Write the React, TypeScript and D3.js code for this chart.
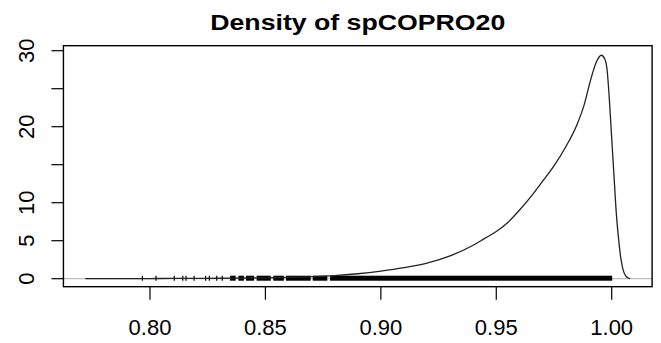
import * as d3 from 'd3';

// density estimate
const densX = [0.772, 0.78, 0.79, 0.80, 0.81, 0.82, 0.83, 0.84, 0.85, 0.86, 0.87, 0.88, 0.89, 0.90, 0.91, 0.92, 0.93, 0.94, 0.945, 0.95, 0.955, 0.96, 0.965, 0.97, 0.975, 0.98, 0.985, 0.988, 0.991, 0.9935, 0.9955, 0.997, 0.998, 0.999, 1.0, 1.001, 1.002, 1.003, 1.004, 1.005, 1.006, 1.007, 1.008];
const densY = [0, 0, 0.01, 0.02, 0.03, 0.05, 0.06, 0.09, 0.12, 0.18, 0.28, 0.4, 0.65, 1.0, 1.45, 2.05, 3.0, 4.4, 5.3, 6.2, 7.4, 9.0, 10.8, 12.8, 14.85, 17.3, 20.3, 22.8, 26.3, 28.6, 29.4, 28.9, 27.5, 23.5, 18.5, 13.5, 8.6, 5.2, 2.6, 1.1, 0.4, 0.12, 0.02];

// rug: isolated observations, then ranges where ticks merge into a solid bar
const rugSingles = [0.7967, 0.8026, 0.8105, 0.8142, 0.8156, 0.8191, 0.8241, 0.8257, 0.8289, 0.8313];
const rugBands: [number, number][] = [
  [0.8347, 0.8371], [0.8383, 0.8407], [0.8416, 0.8451], [0.8462, 0.8523],
  [0.8534, 0.858], [0.8589, 0.8696], [0.8705, 0.8768], [0.878, 1.0002],
];

const xTicks = [0.8, 0.85, 0.9, 0.95, 1.0];
const yTicks = [0, 5, 10, 15, 20, 25, 30];
const yLabels = [0, 5, 10, 20, 30];

const W = 661;
const H = 343;

export default function App() {
  const x = d3.scaleLinear().domain([0.8, 1.0]).range([150, 611.7]);
  const y = d3.scaleLinear().domain([0, 30]).range([278.7, 50.7]);

  const left = x(0.7625);
  const right = x(1.0175);
  const top = y(30.66);
  const bottom = y(-1.05);

  const pts = densX.map((d, i) => [d, densY[i]] as [number, number]);
  const line = d3.line<[number, number]>()
    .x((d) => x(d[0]))
    .y((d) => y(d[1]))
    .curve(d3.curveMonotoneX);

  const font = '"Liberation Sans", Arial, sans-serif';
  const y0 = y(0);

  return (
    <svg width={W} height={H} style={{ position: 'absolute', left: 0, top: 0, background: '#fff' }}>
      <rect width={W} height={H} fill="#fff" />
      <text x={(left + right) / 2} y={29.5} textAnchor="middle" fontFamily={font} fontWeight="bold"
        fontSize={22} textLength={295} lengthAdjust="spacingAndGlyphs" fill="#000">
        Density of spCOPRO20
      </text>

      {/* zero line */}
      <line x1={left} x2={right} y1={y0} y2={y0} stroke="#bdbdbd" strokeWidth={1.2} />

      {/* rug */}
      {rugSingles.map((v) => (
        <line key={v} x1={x(v)} x2={x(v)} y1={y0 - 3} y2={y0 + 2} stroke="#000" strokeWidth={1.2} />
      ))}
      {rugBands.map(([a, b]) => (
        <rect key={a} x={x(a)} width={x(b) - x(a)} y={y0 - 3} height={5} fill="#000" />
      ))}

      <path d={line(pts) ?? ''} fill="none" stroke="#222" strokeWidth={1.3} />

      <rect x={left} y={top} width={right - left} height={bottom - top} fill="none" stroke="#000" strokeWidth={1.4} />

      {xTicks.map((t) => (
        <g key={t}>
          <line x1={x(t)} x2={x(t)} y1={bottom} y2={bottom + 13} stroke="#000" strokeWidth={1.2} />
          <text x={x(t)} y={335} textAnchor="middle" fontFamily={font} fontSize={22} fill="#000">
            {t.toFixed(2)}
          </text>
        </g>
      ))}

      {yTicks.map((t) => (
        <line key={t} x1={left - 12} x2={left} y1={y(t)} y2={y(t)} stroke="#000" strokeWidth={1.2} />
      ))}
      {yLabels.map((t) => (
        <text key={t} transform={`translate(33.5,${y(t)}) rotate(-90)`} textAnchor="middle"
          fontFamily={font} fontSize={22} fill="#000">
          {t}
        </text>
      ))}
    </svg>
  );
}
